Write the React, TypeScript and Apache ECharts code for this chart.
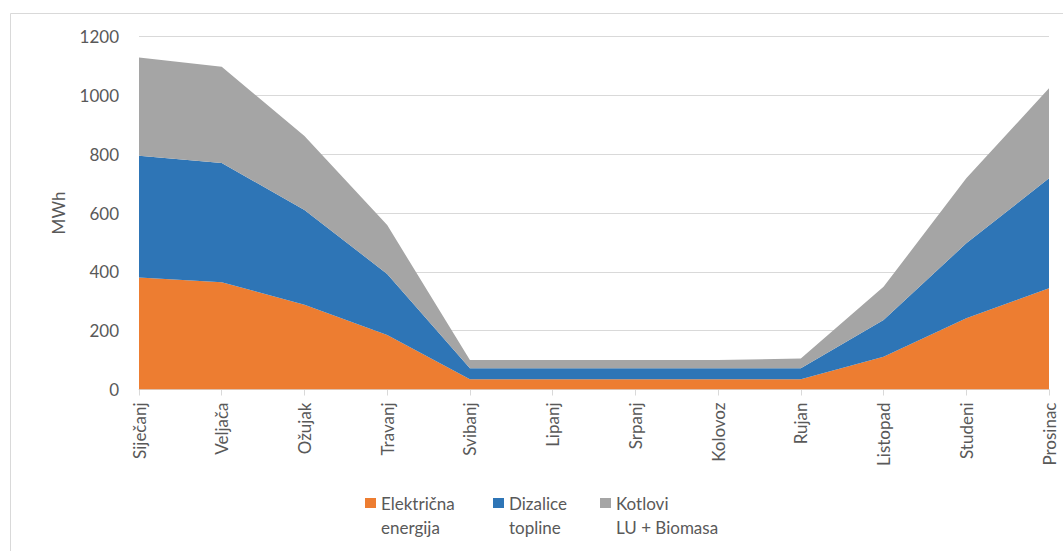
import React, { useEffect, useRef } from "react";
import * as echarts from "echarts";

const months = ["Siječanj", "Veljača", "Ožujak", "Travanj", "Svibanj", "Lipanj", "Srpanj", "Kolovoz", "Rujan", "Listopad", "Studeni", "Prosinac"];
const elektricna = [381, 365, 288, 185, 35, 35, 35, 35, 35, 111, 242, 344];
const dizalice = [414, 405, 322, 208, 37, 37, 37, 37, 37, 125, 255, 374];
const kotlovi = [334, 327, 252, 166, 28, 28, 28, 28, 33, 113, 221, 306];
const seriesNames = ["Električna\nenergija", "Dizalice\ntopline", "Kotlovi\nLU + Biomasa"];
const colors = ["#ED7D31", "#2E75B6", "#A5A5A5"];
const yTicks = [0, 200, 400, 600, 800, 1000, 1200];

export default function App() {
  const ref = useRef<HTMLDivElement>(null);
  useEffect(() => {
    if (!ref.current) return;
    const chart = echarts.init(ref.current, undefined, { renderer: "svg" });
    const font = "Lato, 'Noto Sans', sans-serif";
    const textColor = "#595959";
    const legendLefts = [360, 488, 595];
    const datas = [elektricna, dizalice, kotlovi];
    chart.setOption({
      animation: false,
      backgroundColor: "#ffffff",
      textStyle: { fontFamily: font },
      graphic: [
        {
          type: "rect",
          shape: { x: 10.5, y: 13.5, width: 1100, height: 600 },
          style: { fill: "none", stroke: "#d9d9d9", lineWidth: 1 },
          silent: true,
        },
      ],
      grid: { left: 139, right: 14, top: 36.5, bottom: 161.5 },
      xAxis: {
        type: "category",
        data: months,
        boundaryGap: false,
        axisLine: { lineStyle: { color: "#d9d9d9" } },
        axisTick: { show: true, length: 6, lineStyle: { color: "#d9d9d9" } },
        axisLabel: { rotate: 90, margin: 13, color: textColor, fontSize: 17, fontFamily: font, interval: 0 },
      },
      yAxis: {
        type: "value",
        min: yTicks[0],
        max: yTicks[yTicks.length - 1],
        interval: 200,
        name: "MWh",
        nameLocation: "middle",
        nameGap: 72,
        nameTextStyle: { color: textColor, fontSize: 17, fontFamily: font },
        axisLine: { show: false },
        axisTick: { show: false },
        splitLine: { lineStyle: { color: "#d9d9d9" } },
        axisLabel: { margin: 20, color: textColor, fontSize: 17, fontFamily: font, formatter: (v: number) => String(v) },
      },
      legend: seriesNames.map((n, i) => ({
        left: legendLefts[i],
        top: 462,
        itemWidth: 11,
        itemHeight: 10,
        icon: "rect",
        data: [n],
        selectedMode: false,
        formatter: (name: string) => "\n" + name,
        textStyle: { color: textColor, fontSize: 17, fontFamily: font, lineHeight: 24 },
      })),
      series: seriesNames.map((n, i) => ({
        name: n,
        type: "line",
        stack: "total",
        data: datas[i],
        showSymbol: false,
        symbol: "none",
        lineStyle: { width: 0 },
        areaStyle: { color: colors[i], opacity: 1 },
        itemStyle: { color: colors[i] },
      })),
    });
    return () => chart.dispose();
  }, []);
  return <div ref={ref} style={{ position: "fixed", left: 0, top: 0, width: 1063, height: 551 }} />;
}
